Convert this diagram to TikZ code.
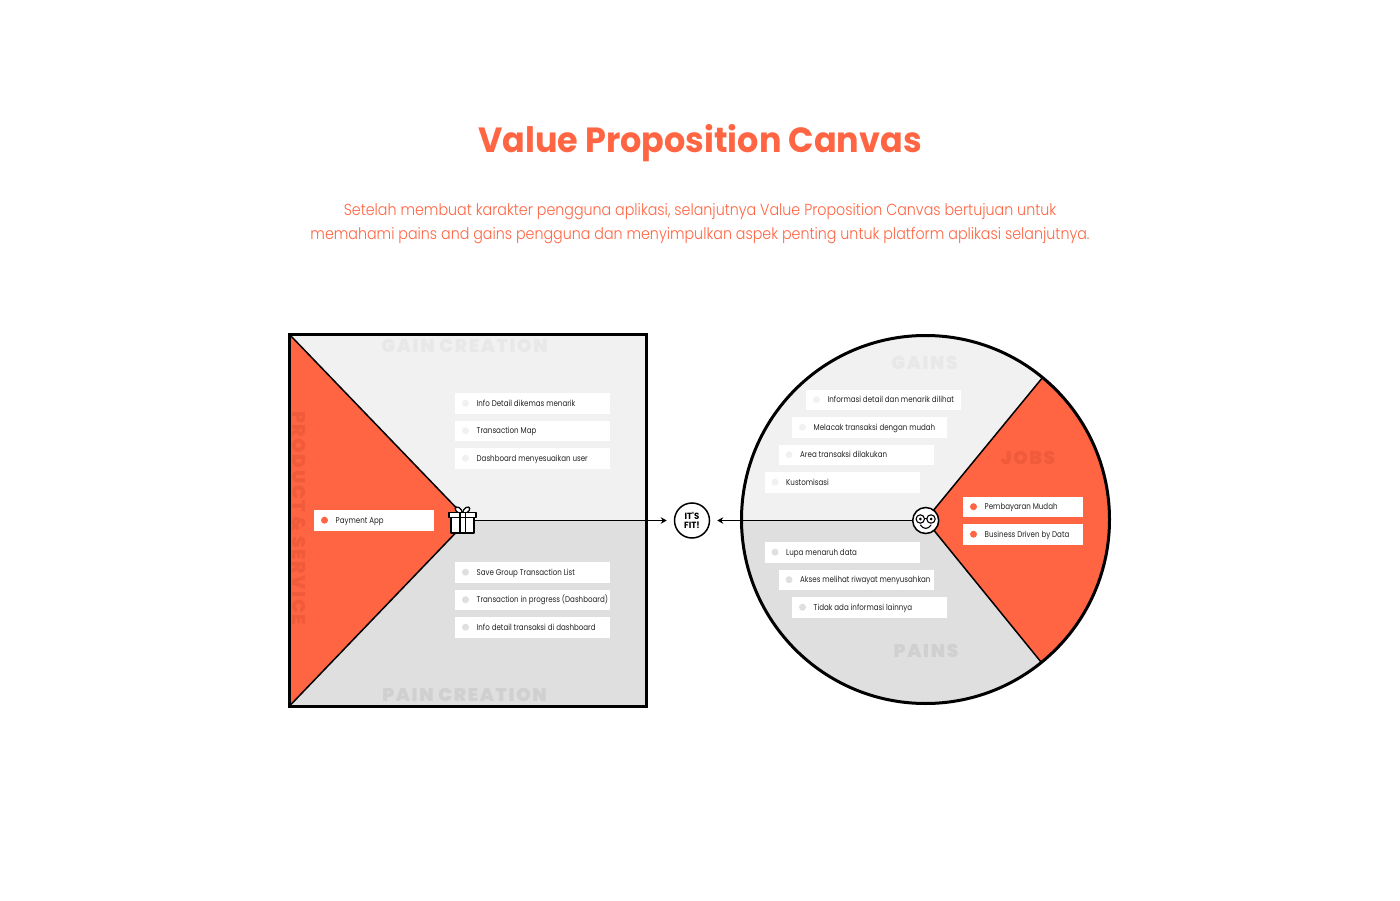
\documentclass[tikz,border=0pt]{standalone}
\usepackage{fontspec}
\setmainfont{Poppins}
\newfontfamily\titlefont[FakeStretch=0.955]{Poppins}
\newfontfamily\bodyfont[FakeStretch=0.891]{Poppins Light}
\newfontfamily\itemfont[FakeStretch=0.845]{Poppins}
\newfontfamily\tagfont[LetterSpace=9]{Poppins Black}
\usetikzlibrary{arrows.meta}
\definecolor{vporange}{HTML}{FF6542}
\definecolor{vpdark}{HTML}{F05C3B}
\definecolor{gainbg}{HTML}{F1F1F1}
\definecolor{painbg}{HTML}{DFDFDF}
\definecolor{gaintag}{HTML}{E8E8E8}
\definecolor{paintag}{HTML}{D0D0D0}
\definecolor{inktext}{HTML}{222222}
\tikzset{
  titletext/.style={text=vporange,font=\titlefont\bfseries\fontsize{35}{36}\selectfont,inner sep=0},
  subtext/.style={text=vporange,font=\bodyfont\fontsize{16}{24}\selectfont,inner sep=0,align=center},
  itembox/.style={fill=white,inner sep=0,minimum height=20.5pt,anchor=north west},
  itemdot/.style={circle,inner sep=0,minimum size=7pt},
  itemtext/.style={text=inktext,font=\itemfont\fontsize{8.4}{10}\selectfont,inner sep=0,anchor=base west},
  tagtext/.style={font=\tagfont\fontsize{18.4}{18}\selectfont,inner sep=0},
  divider/.style={draw=black,line width=1.5pt},
  border/.style={draw=black,line width=3pt},
  connector/.style={draw=black,line width=1.6pt,-{Stealth[length=6pt,width=6.5pt]}},
}
% name, x, y, width, dot colour, text
\newcommand{\vpitem}[6]{%
  \node[itembox,minimum width=#4pt] (#1) at (#2,#3) {};
  \node[itemdot,fill=#5] (#1dot) at (#2+10.5,#3+10.2) {};
  \node[itemtext] (#1txt) at (#2+21.5,#3+13.4) {#6};
}
\begin{document}
\begin{tikzpicture}[x=1pt,y=-1pt]
\useasboundingbox (0,0) rectangle (1400,901);
\fill[white] (0,0) rectangle (1400,901);

\node[titletext] (title) at (700,143.5) {Value Proposition Canvas};
\node[subtext] (sub) at (700,224) {Setelah membuat karakter pengguna aplikasi, selanjutnya Value Proposition Canvas bertujuan untuk\\memahami pains and gains pengguna dan menyimpulkan aspek penting untuk platform aplikasi selanjutnya.};

% square
\fill[gainbg] (289.5,334.5) rectangle (646.5,520);
\fill[painbg] (289.5,520) rectangle (646.5,706);
\fill[vporange] (289.5,334.5) -- (468,520) -- (289.5,706) -- cycle;
\draw[divider] (289.5,334.5) -- (468,520) -- (289.5,706);
\draw[border] (289.5,334.5) rectangle (646.5,706);

\node[tagtext,text=gaintag] (gc) at (464.5,345.5) {GAIN CREATION};
\node[tagtext,text=paintag] (pc) at (464.5,694.5) {PAIN CREATION};
\node[tagtext,text=vpdark,rotate=-90] (ps) at (299,518) {PRODUCT \& SERVICE};

\vpitem{a}{455}{393}{155}{gainbg}{Info Detail dikemas menarik}
\vpitem{b}{455}{420.5}{155}{gainbg}{Transaction Map}
\vpitem{c}{455}{448}{155}{gainbg}{Dashboard menyesuaikan user}
\vpitem{d}{455}{562}{155}{painbg}{Save Group Transaction List}
\vpitem{e}{455}{589.5}{155}{painbg}{Transaction in progress (Dashboard)}
\vpitem{f}{455}{617}{155}{painbg}{Info detail transaksi di dashboard}
\vpitem{g}{314}{510}{120}{vporange}{Payment App}

% circle
\begin{scope}
\clip (925.5,519.5) circle (184);
\fill[gainbg] (735,330) rectangle (1115,520);
\fill[painbg] (735,520) rectangle (1115,710);
\fill[vporange] (925.5,520) -- (1043,377) -- (1115,377) -- (1115,662) -- (1041,662) -- cycle;
\end{scope}
\draw[divider] (1043,377) -- (925.5,520) -- (1041,662);
\draw[border] (925.5,519.5) circle (184);

\node[tagtext,text=gaintag] (gn) at (924.5,362.5) {GAINS};
\node[tagtext,text=vpdark] (jb) at (1028,457.5) {JOBS};
\node[tagtext,text=paintag] (pn) at (926,650.5) {PAINS};

\vpitem{h}{806}{389.5}{155}{gainbg}{Informasi detail dan menarik dilihat}
\vpitem{i}{792}{417}{155}{gainbg}{Melacak transaksi dengan mudah}
\vpitem{j}{778.5}{444.5}{155}{gainbg}{Area transaksi dilakukan}
\vpitem{k}{764.5}{472}{155}{gainbg}{Kustomisasi}
\vpitem{l}{764.5}{542}{155}{painbg}{Lupa menaruh data}
\vpitem{m}{778.5}{569.5}{155}{painbg}{Akses melihat riwayat menyusahkan}
\vpitem{n}{792}{597}{155}{painbg}{Tidak ada informasi lainnya}
\vpitem{o}{963}{496.5}{119.5}{vporange}{Pembayaran Mudah}
\vpitem{p}{963}{524}{119.5}{vporange}{Business Driven by Data}

% fit badge
\node[circle,draw=black,line width=1.5pt,fill=white,minimum size=35pt,inner sep=0,align=center,
  font=\titlefont\bfseries\fontsize{9}{9.4}\selectfont] (fit) at (692,520.5) {IT'S\\FIT!};

% gift icon
\node[inner sep=0,minimum width=25pt,minimum height=26pt] (gift) at (462.5,520.5) {};
\begin{scope}[draw=black,line width=1.3pt,line join=round]
\draw[fill=white] (459,513) .. controls (453,510) and (455,505.5) .. (459,507.5) .. controls (461,508.5) and (462,511) .. (462.5,513);
\draw[fill=white] (466,513) .. controls (472,510) and (470,505.5) .. (466,507.5) .. controls (464,508.5) and (463,511) .. (462.5,513);
\draw[fill=white] (451,517.5) rectangle (474,533);
\draw[fill=white] (449,512.5) rectangle (476,517.5);
\draw (460,512.5) -- (460,533) (465.5,512.5) -- (465.5,533);
\end{scope}

% smiley icon
\node[circle,draw=black,line width=1.5pt,fill=white,minimum size=26pt,inner sep=0] (face) at (925.7,520.5) {};
\begin{scope}[draw=black,line width=1.1pt]
\draw (920.3,519) circle (4.2) (931,519) circle (4.2);
\fill (920.3,519) circle (1.5) (931,519) circle (1.5);
\draw (924.5,518.5) -- (926.8,518.5);
\draw[line cap=round] (920.5,525) .. controls (923,529.5) and (928.5,529.5) .. (931,525);
\end{scope}

\draw[connector] (gift.east) -- ([xshift=-7pt]fit.west);
\draw[connector] (face.west) -- ([xshift=7pt]fit.east);
\end{tikzpicture}
\end{document}
